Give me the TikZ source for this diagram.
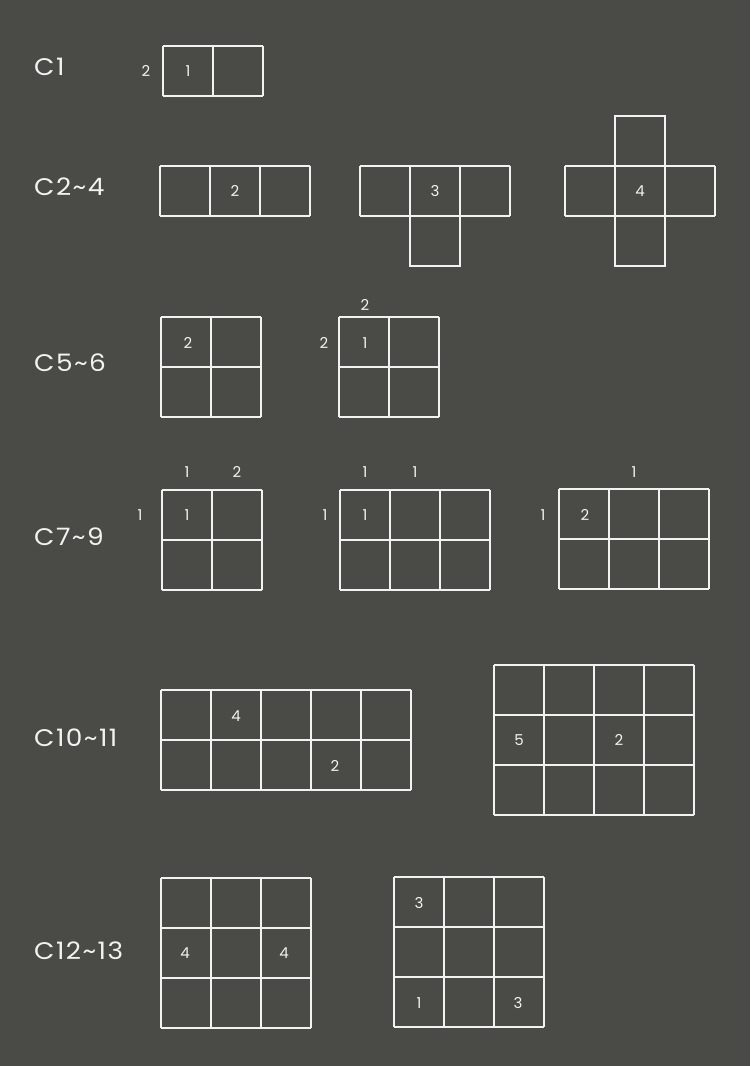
\documentclass[tikz,border=0pt]{standalone}
\usepackage{fontspec}
\setmainfont{Poppins}
\newfontfamily\labfont{Poppins}[FakeStretch=1.1,LetterSpace=6]
\definecolor{bg}{HTML}{4A4A46}
\definecolor{ink}{HTML}{F2F2F0}
\begin{document}
\begin{tikzpicture}[x=1pt,y=-1pt,
  gridline/.style={draw=ink,line width=1.8pt},
  lab/.style={anchor=west,text=ink,inner sep=0pt,font=\labfont\fontsize{24}{24}\selectfont},
  num/.style={text=ink,inner sep=0pt,font=\fontsize{15}{15}\selectfont}]
\fill[bg] (0,0) rectangle (750,1066);
\useasboundingbox (0,0) rectangle (750,1066);
% C1
\node[lab] (l1) at (34,67) {C1};
\draw[gridline,shift={(163,46)}] (0,0) grid[step=50pt] (100,50);
\node[num] (c1a) at (146,71) {2};
\node[num] (c1b) at (188,71) {1};
% C2~4
\node[lab] (l2) at (34,187) {C2\textasciitilde 4};
\draw[gridline,shift={(160,166)}] (0,0) grid[step=50pt] (150,50);
\node[num] (c2a) at (235,191) {2};
\draw[gridline,shift={(360,166)}] (0,0) grid[step=50pt] (150,50);
\draw[gridline] (410,216) rectangle (460,266);
\node[num] (c3a) at (435,191) {3};
\draw[gridline,shift={(565,166)}] (0,0) grid[step=50pt] (150,50);
\draw[gridline] (615,116) rectangle (665,166);
\draw[gridline] (615,216) rectangle (665,266);
\node[num] (c4a) at (640,191) {4};
% C5~6
\node[lab] (l3) at (34,363) {C5\textasciitilde 6};
\draw[gridline,shift={(161,317)}] (0,0) grid[step=50pt] (100,100);
\node[num] (c5a) at (188,343) {2};
\draw[gridline,shift={(339,317)}] (0,0) grid[step=50pt] (100,100);
\node[num] (c6a) at (365,343) {1};
\node[num] (c6b) at (324,343) {2};
\node[num] (c6c) at (365,305) {2};
% C7~9
\node[lab] (l4) at (34,537) {C7\textasciitilde 9};
\draw[gridline,shift={(162,490)}] (0,0) grid[step=50pt] (100,100);
\node[num] (c7a) at (187,515) {1};
\node[num] (c7b) at (187,472) {1};
\node[num] (c7c) at (237,472) {2};
\node[num] (c7d) at (140,515) {1};
\draw[gridline,shift={(340,490)}] (0,0) grid[step=50pt] (150,100);
\node[num] (c8a) at (365,515) {1};
\node[num] (c8b) at (365,472) {1};
\node[num] (c8c) at (415,472) {1};
\node[num] (c8d) at (325,515) {1};
\draw[gridline,shift={(559,489)}] (0,0) grid[step=50pt] (150,100);
\node[num] (c9a) at (585,515) {2};
\node[num] (c9b) at (634,472) {1};
\node[num] (c9c) at (543,515) {1};
% C10~11
\node[lab] (l5) at (34,738) {C10\textasciitilde 11};
\draw[gridline,shift={(161,690)}] (0,0) grid[step=50pt] (250,100);
\node[num] (c10a) at (236,716) {4};
\node[num] (c10b) at (335,766) {2};
\draw[gridline,shift={(494,665)}] (0,0) grid[step=50pt] (200,150);
\node[num] (c11a) at (519,740) {5};
\node[num] (c11b) at (619,740) {2};
% C12~13
\node[lab] (l6) at (34,951) {C12\textasciitilde 13};
\draw[gridline,shift={(161,878)}] (0,0) grid[step=50pt] (150,150);
\node[num] (c12a) at (185,953) {4};
\node[num] (c12b) at (284,953) {4};
\draw[gridline,shift={(394,877)}] (0,0) grid[step=50pt] (150,150);
\node[num] (c13a) at (419,903) {3};
\node[num] (c13b) at (419,1003) {1};
\node[num] (c13c) at (518,1003) {3};
\end{tikzpicture}
\end{document}
